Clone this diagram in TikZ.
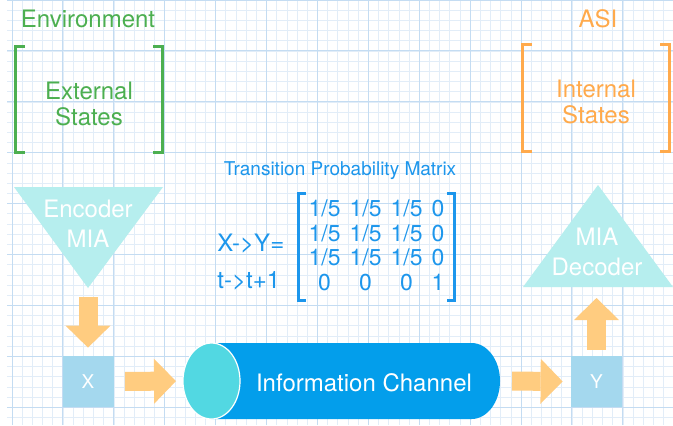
\documentclass[tikz,border=0pt]{standalone}
\usepackage{fontspec}
\setmainfont{TeX Gyre Heros}
\usetikzlibrary{shapes.geometric,arrows.meta,positioning}
\definecolor{envgreen}{RGB}{76,175,80}
\definecolor{asiorange}{RGB}{255,170,76}
\definecolor{tpmblue}{RGB}{28,150,236}
\definecolor{triafill}{RGB}{182,238,238}
\definecolor{boxblue}{RGB}{164,216,238}
\definecolor{fatorange}{RGB}{255,204,128}
\definecolor{chanblue}{RGB}{3,158,235}
\definecolor{chancyan}{RGB}{82,216,226}
\definecolor{gridminor}{RGB}{226,237,248}
\definecolor{gridmajor}{RGB}{196,220,242}
% square brackets round a states node, lifted a little above the text
\newcommand{\statebrack}[2]{%
  \draw[brack, #2] ([shift={(4.5pt,2pt)}]#1.north west) -- ([yshift=2pt]#1.north west) -- ([yshift=2pt]#1.south west) -- ([shift={(4.5pt,2pt)}]#1.south west);
  \draw[brack, #2] ([shift={(-4.5pt,2pt)}]#1.north east) -- ([yshift=2pt]#1.north east) -- ([yshift=2pt]#1.south east) -- ([shift={(-4.5pt,2pt)}]#1.south east);
}

\begin{document}
\begin{tikzpicture}[x=0.5pt, y=-0.5pt]
  %
  \tikzstyle{big} = [font=\fontsize{12}{15}\selectfont, align=center, inner sep=0pt]
  \tikzstyle{states} = [font=\fontsize{12}{13}\selectfont, align=center, inner sep=0pt, minimum width=73pt, minimum height=53pt]
  \tikzstyle{brack} = [line width=1.5pt]
  \tikzstyle{sym} = [fill=boxblue, text=white, minimum size=25.5pt, inner sep=0pt, font=\fontsize{9.5}{11}\selectfont]
  \tikzstyle{fat} = [fatorange, line width=9.5pt, -{Triangle[width=22.5pt, length=11pt, line width=0pt]}]
  \tikzstyle{me} = [font=\fontsize{11.5}{12}\selectfont, text height=8pt, text depth=1.5pt, minimum height=12.3pt, inner sep=0pt]
  %
  \useasboundingbox (0,0) rectangle (673,425);
  \fill[white] (0,0) rectangle (673,425);
  \begin{scope}[xshift=6pt]
    \draw[gridminor, line width=0.3pt] (-5,425) grid[step=5.09pt] (661,0);
    \draw[gridmajor, line width=0.5pt] (-5,425) grid[step=25.45pt] (661,0);
  \end{scope}
  %
  \node[big, envgreen] (env) at (88,19) {Environment};
  \node[states, envgreen] (ext) at (89,103.5) {External\\States};
  \statebrack{ext}{envgreen}
  \node[big, asiorange] (asi) at (598,19) {ASI};
  \node[states, asiorange] (int) at (596,102) {Internal\\States};
  \statebrack{int}{asiorange}
  %
  \coordinate (encapex) at (88,288);
  \fill[triafill] (14,187) -- (163,187) -- (encapex) -- cycle;
  \node[big, white] (enc) at (88,224) {Encoder\\MIA};
  \coordinate (decbase) at (598,287);
  \fill[triafill] (598,185) -- (673,287) -- (523,287) -- cycle;
  \node[big, white] (dec) at (597,252) {MIA\\Decoder};
  %
  \node[sym] (x) at (88,381.5) {X};
  \node[sym] (y) at (596.5,381.5) {Y};
  % channel
  \coordinate (chanL) at (183,381);
  \coordinate (chanR) at (500,381);
  \fill[chanblue] (211.5,343) -- (471.5,343) arc[start angle=90, end angle=-90, x radius=14.25pt, y radius=19pt] -- (211.5,419) -- cycle;
  \filldraw[fill=chancyan, draw=white, line width=0.6pt] (211.5,381) ellipse[x radius=14.25pt, y radius=19pt];
  \node[big, white] (chan) at (364,383) {Information Channel};
  %
  \draw[fat, shorten <=4.5pt, shorten >=4pt] (encapex) -- (x.north);
  \draw[fat, shorten <=5.5pt, shorten >=3.5pt] (x.east) -- (chanL);
  \draw[fat, shorten <=6pt, shorten >=4pt] (chanR) -- (y.west);
  \draw[fat, shorten <=3pt, shorten >=5.5pt] (y.north) -- (y.north |- decbase);
  %
  \node[tpmblue, inner sep=0pt, font=\fontsize{9.5}{11}\selectfont] (title) at (340,171) {Transition Probability Matrix};
  \node[big, tpmblue, anchor=west] (xy) at (217,244) {X->Y=};
  \node[big, tpmblue, anchor=west] (tt) at (217,281) {t->t+1};
  \matrix[tpmblue, row sep=0pt, column sep=4.5pt, inner xsep=5pt, inner ysep=2pt] (tpm) at (376.5,247)
  {
    \node[me]{1/5}; & \node[me]{1/5}; & \node[me]{1/5}; & \node[me]{0}; \\
    \node[me]{1/5}; & \node[me]{1/5}; & \node[me]{1/5}; & \node[me]{0}; \\
    \node[me]{1/5}; & \node[me]{1/5}; & \node[me]{1/5}; & \node[me]{0}; \\
    \node[me]{0}; & \node[me]{0}; & \node[me]{0}; & \node[me]{1}; \\
  };
  \draw[tpmblue, line width=1.3pt] ([xshift=4pt]tpm.north west) -- (tpm.north west) -- (tpm.south west) -- ([xshift=4pt]tpm.south west);
  \draw[tpmblue, line width=1.3pt] ([xshift=-4pt]tpm.north east) -- (tpm.north east) -- (tpm.south east) -- ([xshift=-4pt]tpm.south east);
\end{tikzpicture}
\end{document}
